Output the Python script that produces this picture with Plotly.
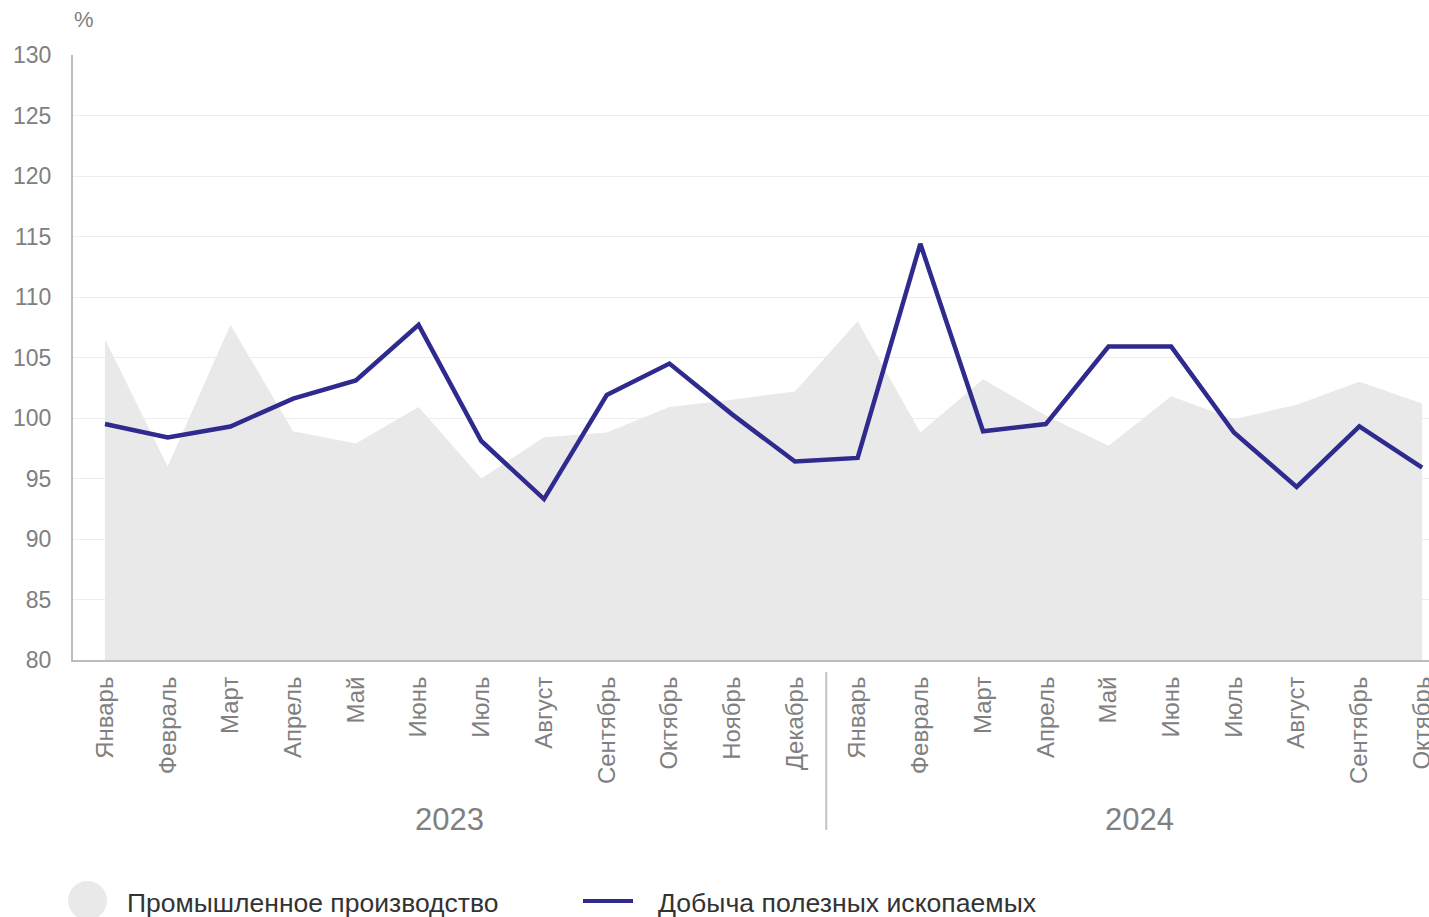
import plotly.graph_objects as go

months = ["Январь", "Февраль", "Март", "Апрель", "Май", "Июнь", "Июль", "Август",
          "Сентябрь", "Октябрь", "Ноябрь", "Декабрь",
          "Январь", "Февраль", "Март", "Апрель", "Май", "Июнь", "Июль", "Август",
          "Сентябрь", "Октябрь"]
years = ["2023", "2024"]
industry = [106.5, 96.0, 107.7, 98.9, 97.9, 100.9, 95.0, 98.4, 98.8, 100.9, 101.5, 102.2,
            108.0, 98.8, 103.2, 100.2, 97.7, 101.8, 99.9, 101.1, 103.0, 101.2]
mining = [99.5, 98.4, 99.3, 101.6, 103.1, 107.7, 98.1, 93.3, 101.9, 104.5, 100.3, 96.4,
          96.7, 114.4, 98.9, 99.5, 105.9, 105.9, 98.8, 94.3, 99.3, 95.9]
names = ["Промышленное производство", "Добыча полезных ископаемых"]

x = list(range(len(months)))
LINE_C = "#2f2a8e"
AREA_C = "#e9e9e9"
GREY = "#808080"
FONT = "Liberation Sans, Arial, sans-serif"

W, H = 1429, 917
L, R, T, B = 73, 0, 55, 257
PW, PH = W - L - R, H - T - B


def px(xp):
    return (xp - L) / PW


def py(yp):
    return (H - B - yp) / PH


fig = go.Figure()
fig.add_trace(go.Scatter(x=x, y=industry, mode="lines", fill="tozeroy",
                         fillcolor=AREA_C, line=dict(width=0, color=AREA_C),
                         name=names[0], showlegend=False))
fig.add_trace(go.Scatter(x=x, y=mining, mode="lines",
                         line=dict(width=4.5, color=LINE_C),
                         name=names[1], showlegend=False))

fig.update_layout(
    width=W, height=H,
    margin=dict(l=L, r=R, t=T, b=B, autoexpand=False),
    paper_bgcolor="white", plot_bgcolor="white",
    font=dict(family=FONT, color=GREY),
    showlegend=False,
)
fig.update_yaxes(range=[80, 130], dtick=5, tick0=80,
                 showgrid=True, gridcolor="#ececec", gridwidth=1,
                 showline=True, linecolor="#bdbdbd", linewidth=2,
                 zeroline=False, automargin=False,
                 tickfont=dict(size=23, color=GREY),
                 ticks="", ticklabelstandoff=15)
fig.update_xaxes(range=[-0.51, 21.11], tickmode="array", tickvals=x, ticktext=months,
                 tickangle=-90, tickfont=dict(size=24, color=GREY),
                 showgrid=False, showline=True, linecolor="#bdbdbd", linewidth=2,
                 zeroline=False, ticks="", ticklabelstandoff=5, automargin=False,
                 ticklabeloverflow="allow")

# group dividers
for xv in [-0.57, 11.5]:
    fig.add_shape(type="line", xref="x", yref="paper", x0=xv, x1=xv,
                  y0=py(672), y1=py(830), line=dict(color="#c4c4c4", width=2))
# year labels
for xv, yr in [(5.5, years[0]), (16.5, years[1])]:
    fig.add_annotation(x=xv, y=py(819), xref="x", yref="paper", text=yr,
                       showarrow=False, font=dict(size=31, color=GREY),
                       xanchor="center", yanchor="middle")

# % label
fig.add_annotation(x=px(84), y=py(20), xref="paper", yref="paper", text="%",
                   showarrow=False, font=dict(size=22, color=GREY),
                   xanchor="center", yanchor="middle")

# custom legend
fig.add_shape(type="circle", xref="paper", yref="paper",
              x0=px(68), x1=px(107), y0=py(920), y1=py(881),
              fillcolor=AREA_C, line=dict(width=0))
fig.add_annotation(x=px(125), y=py(903), xref="paper", yref="paper",
                   text=names[0], showarrow=False, xanchor="left", yanchor="middle",
                   font=dict(size=26.5, color="#333333"))
fig.add_shape(type="line", xref="paper", yref="paper",
              x0=px(583), x1=px(633), y0=py(901), y1=py(901),
              line=dict(color=LINE_C, width=4))
fig.add_annotation(x=px(656), y=py(903), xref="paper", yref="paper",
                   text=names[1], showarrow=False, xanchor="left", yanchor="middle",
                   font=dict(size=26.6, color="#333333"))

fig.write_html("out.html", config={"displayModeBar": False},
               post_script="document.body.style.margin='0';document.body.style.overflow='hidden';")
